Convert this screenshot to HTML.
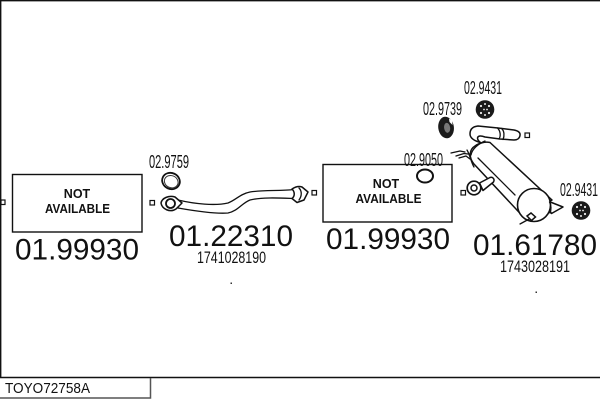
<!DOCTYPE html>
<html><head><meta charset="utf-8"><style>
html,body{margin:0;padding:0;background:#fff}
svg{display:block}
text{font-family:"Liberation Sans",sans-serif;fill:#111}
.big{font-size:30px}
.mid{font-size:16.5px}
.lab{font-size:18.5px}
.na{font-size:12.5px;font-weight:bold}
.l{fill:none;stroke:#111;stroke-width:1.3;stroke-linecap:round;stroke-linejoin:round}
.f{fill:#fff;stroke:#111;stroke-width:1.5;stroke-linejoin:round;stroke-linecap:round}
.b{fill:#fff;stroke:#111;stroke-width:1.4}
.s{fill:#fff;stroke:#111;stroke-width:1.2}
.d{fill:#eee}
</style></head><body>
<svg width="600" height="400" viewBox="0 0 600 400" xmlns="http://www.w3.org/2000/svg">
<rect width="600" height="400" fill="#fff"/>
<path d="M0.7 377V0.7H600" fill="none" stroke="#111" stroke-width="1.4"/>
<path d="M0 377.500H600" stroke="#111" stroke-width="1.600"/>
<path d="M0 398H150.500V378" fill="none" stroke="#555" stroke-width="1.500"/>
<text x="5" y="393" font-size="15" textLength="85" lengthAdjust="spacingAndGlyphs">TOYO72758A</text>

<rect class="b" x="12.500" y="174.500" width="129.500" height="57.500"/>
<rect class="b" x="323" y="164.500" width="129" height="57.500"/>
<text class="na" x="77" y="198" text-anchor="middle">NOT</text>
<text class="na" x="45" y="213" textLength="65" lengthAdjust="spacingAndGlyphs">AVAILABLE</text>
<text class="na" x="386" y="188" text-anchor="middle">NOT</text>
<text class="na" x="355.500" y="203" textLength="66" lengthAdjust="spacingAndGlyphs">AVAILABLE</text>

<text class="big" x="15" y="259.500" textLength="124" lengthAdjust="spacingAndGlyphs">01.99930</text>
<text class="big" x="169" y="246" textLength="124" lengthAdjust="spacingAndGlyphs">01.22310</text>
<text class="big" x="326" y="249" textLength="124" lengthAdjust="spacingAndGlyphs">01.99930</text>
<text class="big" x="473" y="255" textLength="124" lengthAdjust="spacingAndGlyphs">01.61780</text>
<text class="mid" x="197" y="263" textLength="69" lengthAdjust="spacingAndGlyphs">1741028190</text>
<text class="mid" x="500" y="272" textLength="70" lengthAdjust="spacingAndGlyphs">1743028191</text>
<text class="lab" x="149" y="168" textLength="40" lengthAdjust="spacingAndGlyphs">02.9759</text>
<text class="lab" x="464" y="94" textLength="38" lengthAdjust="spacingAndGlyphs">02.9431</text>
<text class="lab" x="423" y="115" textLength="39" lengthAdjust="spacingAndGlyphs">02.9739</text>
<text class="lab" x="404" y="166" textLength="39" lengthAdjust="spacingAndGlyphs">02.9050</text>
<text class="lab" x="560" y="196" textLength="38" lengthAdjust="spacingAndGlyphs">02.9431</text>

<rect x="230.500" y="282.500" width="1.500" height="1.500" fill="#333"/>
<rect x="535.500" y="291.500" width="1.500" height="1.500" fill="#333"/>

<rect class="s" x="1" y="200" width="4" height="4.500"/>
<rect class="s" x="150" y="200.500" width="4.500" height="4.500"/>
<rect class="s" x="312" y="190.500" width="4.500" height="4.500"/>
<rect class="s" x="461" y="190.500" width="4.500" height="4.500"/>
<rect class="s" x="525" y="133" width="4.500" height="4.500"/>

<!-- gasket 02.9759 -->
<ellipse cx="171" cy="181" rx="9" ry="8" fill="none" stroke="#111" stroke-width="1.800" transform="rotate(25 171 181)"/>
<ellipse cx="171.500" cy="181.500" rx="7" ry="6" fill="none" stroke="#333" stroke-width="1" transform="rotate(25 171 181)"/>
<!-- front pipe -->
<path class="l" d="M178 200C195 204 215 206 228 203C236 200 240 194 250 192C262 190 280 191 294 189.500"/>
<path class="l" d="M178 208C195 211 215 214 228 213C238 211 242 203 250 200C262 197 280 198 294 198.500"/>
<path class="f" stroke-width="1.700" d="M161 203C162 198 169 195 175 197L182 203L176 209C170 213 162 209 161 203Z"/>
<ellipse cx="170.500" cy="203.500" rx="4.500" ry="4.500" fill="none" stroke="#111" stroke-width="1.800"/>
<path class="f" d="M292 189C295 187 299 186 302 187L308 192L304 200L297 202.500L292 198.500C295 196 295 192 292 189Z"/>
<path class="l" d="M299 188C302 191 302 196 299 200"/>

<!-- rubber hangers -->
<circle cx="485" cy="109.500" r="9.300" fill="#1a1a1a"/>
<g class="d"><circle cx="481" cy="106" r="1.100"/><circle cx="485" cy="104" r="1"/><circle cx="489" cy="106" r="1.100"/><circle cx="481" cy="113" r="1.100"/><circle cx="485" cy="115" r="1"/><circle cx="489" cy="113" r="1.100"/><circle cx="484" cy="109.500" r="0.900"/><circle cx="487" cy="109.500" r="0.900"/></g>
<circle cx="581" cy="210.500" r="9.300" fill="#1a1a1a"/>
<g class="d"><circle cx="577" cy="207" r="1.100"/><circle cx="581" cy="205" r="1"/><circle cx="585" cy="207" r="1.100"/><circle cx="577" cy="214" r="1.100"/><circle cx="581" cy="216" r="1"/><circle cx="585" cy="214" r="1.100"/><circle cx="580" cy="210.500" r="0.900"/><circle cx="583" cy="210.500" r="0.900"/></g>
<ellipse cx="446" cy="127.500" rx="7.800" ry="10.800" fill="#1a1a1a" transform="rotate(-8 446 127)"/>
<ellipse cx="447" cy="128" rx="3" ry="5" fill="#777" transform="rotate(-8 446 127)"/>
<path d="M449 118.500L452 120L452.500 125L449.500 122Z" fill="#fff"/>
<!-- gasket 02.9050 -->
<ellipse cx="425" cy="176" rx="8" ry="6.500" fill="#fff" stroke="#111" stroke-width="2"/>

<!-- tailpipe inlet -->
<path class="f" d="M482 143C474 141 470 138 470 134C470 129 473 126.500 478 126L498 128L514 130C519 131 520.500 133 520 135.500C519.500 138.500 517 140 514 140L500 139L485 137C481 135.500 478 135.500 477.500 138C477.500 140 479 141.500 481 143Z"/>
<path class="l" d="M497.500 128C500.500 131 501 136 499 139M501.500 128.500C504.500 131 504.500 136 503 139.500"/>
<!-- wires -->
<path class="l" stroke-width="1.500" d="M451 153L460 151L465 152M456 156L464 153.500L468 154M459 158L466 156L470 159"/>
<path class="l" stroke-width="1.500" d="M467 150C470 155 471 162 474 167"/>
<!-- muffler body -->
<path class="f" d="M490 142.500L552 200L523 216.500L473.500 163.500C468 156 470 149 475 146C479 143 485 141.500 490 142.500Z"/>
<path class="l" d="M471 155C472 149 478 144 485 141"/>
<path class="l" d="M478 158L515 195"/>
<!-- rear bracket / triangle -->
<path class="f" d="M549 201.500L563 207L551.500 213.500C549 210 548 205 549 201.500Z"/>
<circle cx="534" cy="205" r="16.500" fill="#fff" stroke="#111" stroke-width="1.600"/>
<path class="l" d="M549.500 202C551 205 551.500 209 550 213"/>
<path class="l" stroke-width="1.800" d="M520 224L531 218"/>
<path d="M527 216L531 213L535.500 217L531.500 220.500Z" fill="#fff" stroke="#111" stroke-width="1.500"/>
<!-- side outlet -->
<path class="f" d="M479.500 183L490 177.500C493 176.500 495 179.500 493.500 182L483 190.500Z"/>
<circle cx="474" cy="188" r="6.800" fill="#fff" stroke="#111" stroke-width="1.700"/>
<circle cx="474" cy="188" r="3" fill="none" stroke="#111" stroke-width="1.500"/>
</svg>
</body></html>
